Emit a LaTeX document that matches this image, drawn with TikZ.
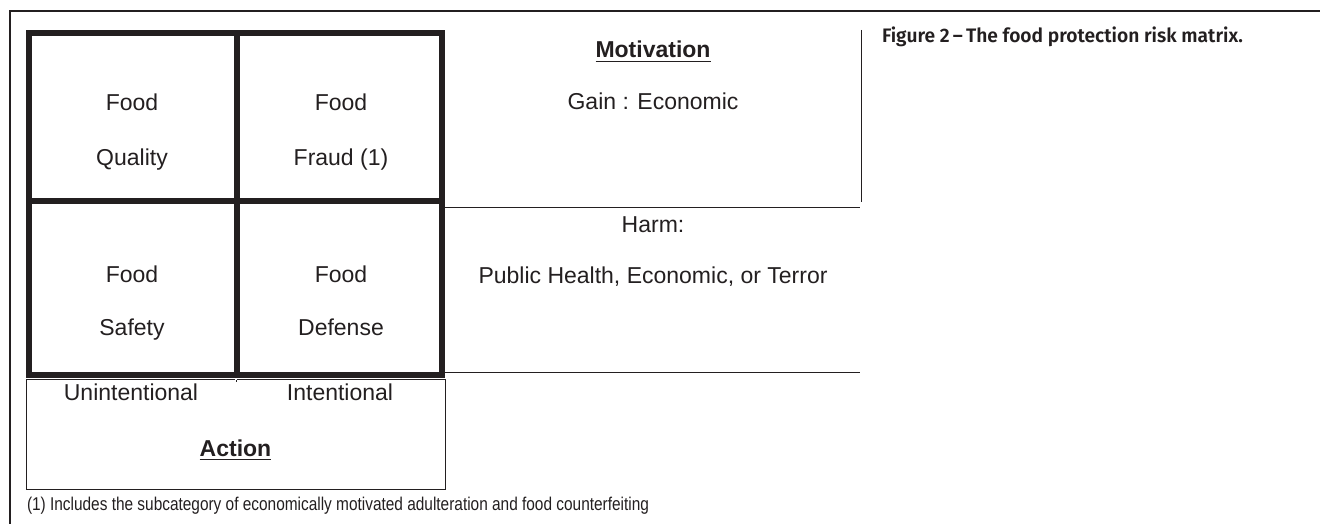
\documentclass[tikz,border=0pt]{standalone}
\usepackage{fontspec}
\usepackage{graphicx}
\setmainfont{Liberation Sans}
\newfontfamily\capfont{Fira Sans}[BoldFont={* SemiBold}]
\definecolor{ink}{HTML}{231F20}
\begin{document}
\begin{tikzpicture}[x=1pt,y=-1pt,
  every node/.style={inner sep=0pt,outer sep=0pt,text=ink},
  cell/.style={draw=ink,line width=6pt,rectangle,minimum width=#1},
  lbl/.style={anchor=base,font=\fontsize{23}{27}\selectfont},
  blbl/.style={anchor=base,font=\fontsize{23}{27}\selectfont\bfseries},
  thin/.style={draw=ink,line width=1pt},
  frame/.style={draw=ink,line width=1.5pt},
  uline/.style={draw=ink,line width=1.6pt}]
\useasboundingbox (0,0) rectangle (1320,524);
% page frame
\coordinate (ftl) at (10,11);
\coordinate (ftr) at (1320,11);
\coordinate (fbl) at (10,524);
\draw[frame] (ftr) -- (ftl) -- (fbl);
% matrix cells
\node[cell=208,minimum height=168] (q) at (133,117) {};
\node[cell=205,minimum height=168] (f) at (339.5,117) {};
\node[cell=208,minimum height=174] (s) at (133,288) {};
\node[cell=205,minimum height=174] (d) at (339.5,288) {};
% cell texts
\node[lbl] (q1) at (132,111) {Food};
\node[lbl] (q2) at (132,165) {Quality};
\node[lbl] (f1) at (341,111) {Food};
\node[lbl] (f2) at (341,165) {Fraud (1)};
\node[lbl] (s1) at (132,282) {Food};
\node[lbl] (s2) at (132,335) {Safety};
\node[lbl] (d1) at (341,282) {Food};
\node[lbl] (d2) at (341,335) {Defense};
% action box
\coordinate (a1) at (26,379);
\coordinate (a2) at (235.3,379);
\coordinate (a3) at (237.3,379);
\coordinate (a4) at (445,379);
\coordinate (a5) at (445,489);
\coordinate (a6) at (26,489);
\coordinate (at1) at (236.3,379.5);
\coordinate (at2) at (236.3,382);
\draw[thin] (a2) -- (a1) -- (a6) -- (a5) -- (a4) -- (a3);
\draw[draw=ink,line width=0.6pt] (at1) -- (at2);
\node[lbl] (un) at (131,400.5) {Unintentional};
\node[lbl] (in) at (340,400.5) {Intentional};
\node[blbl] (act) at (235.5,456) {Action};
\draw[uline] ([yshift=-3.6pt]act.base west) -- ([yshift=-3.6pt]act.base east);
% right side lines
\coordinate (rv1) at (861,30);
\coordinate (rv2) at (861,201.5);
\coordinate (h1a) at (445,207);
\coordinate (h1b) at (860,207);
\coordinate (h2a) at (445,372);
\coordinate (h2b) at (860,372);
\draw[thin] (rv1) -- (rv2);
\draw[thin] (h1a) -- (h1b);
\draw[thin] (h2a) -- (h2b);
% right side texts
\node[blbl] (mot) at (653,58) {Motivation};
\draw[uline] ([yshift=-3.7pt]mot.base west) -- ([yshift=-3.7pt]mot.base east);
\node[lbl] (gain) at (653,110) {Gain : Economic};
\node[lbl] (harm) at (653,232) {Harm:};
\node[lbl] (phe) at (653,283) {Public Health, Economic, or Terror};
% footnote
\node[anchor=base west,font=\fontsize{18.5}{22}\selectfont] (fn) at (27,510)
  {\resizebox{622pt}{\height}{(1) Includes the subcategory of economically motivated adulteration and food counterfeiting}};
% caption
\node[anchor=base west,font=\capfont\fontsize{19.5}{23}\selectfont\bfseries] (cap) at (882,43)
  {\resizebox{361pt}{\height}{Figure 2\,\textendash\,The food protection risk matrix.}};
\end{tikzpicture}
\end{document}
